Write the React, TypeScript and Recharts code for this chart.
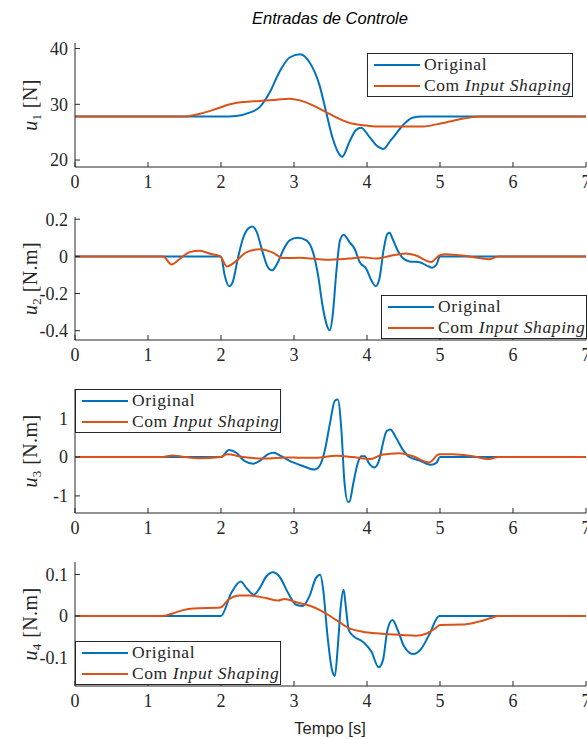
import React from "react";
import { Line, LineChart, XAxis, YAxis } from "recharts";

// tempo [s] e valores
const u1OrigT = [0, 2.0, 2.21, 2.39, 2.53, 2.67, 2.8, 2.94, 3.08, 3.21, 3.35, 3.44, 3.53, 3.6, 3.66, 3.76, 3.85, 3.92, 4.03, 4.15, 4.22, 4.33, 4.49, 4.62, 4.76, 7];
const u1OrigV = [27.8, 27.8, 27.9, 28.5, 29.5, 32.2, 35.8, 38.4, 39.0, 37.6, 33.4, 28.6, 23.9, 21.5, 20.6, 23.3, 25.4, 25.8, 24.2, 22.4, 22.0, 23.6, 26.2, 27.6, 27.8, 27.8];
const u1ShapT = [0, 1.48, 1.71, 1.94, 2.12, 2.3, 2.53, 2.76, 2.94, 3.08, 3.26, 3.44, 3.62, 3.81, 3.99, 4.2, 4.5, 4.76, 4.95, 5.13, 5.3, 5.45, 5.55, 7];
const u1ShapV = [27.8, 27.8, 28.3, 29.2, 30.0, 30.4, 30.6, 30.8, 31.0, 30.7, 29.8, 28.6, 27.4, 26.5, 26.2, 26.0, 26.0, 26.0, 26.4, 26.9, 27.4, 27.7, 27.8, 27.8];

const u2OrigT = [0, 2.0, 2.05, 2.11, 2.16, 2.23, 2.3, 2.37, 2.43, 2.49, 2.57, 2.64, 2.7, 2.78, 2.85, 2.94, 3.05, 3.17, 3.26, 3.33, 3.39, 3.45, 3.49, 3.53, 3.58, 3.63, 3.68, 3.76, 3.83, 3.9, 3.99, 4.06, 4.12, 4.17, 4.23, 4.28, 4.31, 4.35, 4.42, 4.49, 4.58, 4.72, 4.81, 4.89, 4.95, 5.0, 7];
const u2OrigV = [0, 0, -0.102, -0.161, -0.138, -0.012, 0.095, 0.149, 0.161, 0.131, 0.023, -0.057, -0.075, -0.031, 0.032, 0.086, 0.1, 0.086, 0.023, -0.102, -0.263, -0.371, -0.398, -0.317, -0.084, 0.086, 0.117, 0.077, 0.041, -0.031, -0.066, -0.129, -0.16, -0.12, 0.041, 0.122, 0.127, 0.095, 0.032, -0.009, -0.027, -0.031, -0.048, -0.061, -0.045, 0, 0];
const u2ShapT = [0, 1.21, 1.32, 1.44, 1.57, 1.71, 1.85, 1.99, 2.08, 2.19, 2.35, 2.53, 2.71, 2.85, 3.08, 3.3, 3.49, 3.76, 3.94, 4.12, 4.31, 4.53, 4.67, 4.88, 4.99, 5.08, 5.36, 5.54, 5.67, 5.8, 7];
const u2ShapV = [0, 0, -0.043, -0.012, 0.023, 0.03, 0.014, 0, -0.054, -0.031, 0.023, 0.038, 0.02, -0.009, -0.007, -0.014, -0.018, -0.012, -0.004, -0.012, 0.002, 0.016, 0.005, -0.03, 0.005, 0.012, 0.002, -0.009, -0.016, 0, 0];

const u3OrigT = [0, 2.0, 2.11, 2.21, 2.32, 2.44, 2.53, 2.64, 2.72, 2.82, 2.94, 3.12, 3.28, 3.35, 3.42, 3.49, 3.56, 3.6, 3.65, 3.69, 3.74, 3.76, 3.81, 3.87, 3.92, 3.97, 4.03, 4.1, 4.17, 4.22, 4.27, 4.32, 4.4, 4.49, 4.58, 4.72, 4.88, 4.95, 5.0, 7];
const u3OrigV = [0, 0, 0.18, 0.11, -0.1, -0.17, -0.1, 0.07, 0.11, 0.03, -0.1, -0.23, -0.32, -0.23, 0.15, 0.84, 1.45, 1.48, 0.67, -0.62, -1.15, -1.15, -0.7, -0.18, 0.02, 0.02, -0.17, -0.27, -0.06, 0.37, 0.67, 0.71, 0.49, 0.19, 0.0, -0.09, -0.2, -0.15, 0, 0];
const u3ShapT = [0, 1.2, 1.33, 1.5, 1.7, 2.0, 2.08, 2.3, 2.6, 2.9, 3.1, 3.3, 3.58, 3.8, 4.05, 4.2, 4.44, 4.63, 4.85, 4.99, 5.17, 5.45, 5.67, 5.8, 7];
const u3ShapV = [0, 0, 0.04, 0.0, -0.03, 0, 0.07, 0.0, -0.04, -0.01, -0.02, -0.02, 0.03, 0.0, -0.05, 0.06, 0.1, 0.02, -0.14, 0.07, 0.07, 0.02, -0.05, 0, 0];

const u4OrigT = [0, 2.0, 2.14, 2.27, 2.35, 2.45, 2.53, 2.62, 2.71, 2.8, 2.92, 3.03, 3.12, 3.21, 3.3, 3.36, 3.4, 3.46, 3.52, 3.56, 3.6, 3.64, 3.68, 3.71, 3.75, 3.81, 3.94, 4.06, 4.16, 4.22, 4.28, 4.35, 4.42, 4.51, 4.63, 4.74, 4.85, 4.99, 7];
const u4OrigV = [0, 0, 0.055, 0.083, 0.067, 0.051, 0.067, 0.095, 0.105, 0.095, 0.055, 0.027, 0.024, 0.047, 0.091, 0.099, 0.063, -0.05, -0.13, -0.145, -0.074, 0.022, 0.063, 0.022, -0.034, -0.048, -0.062, -0.086, -0.124, -0.106, -0.034, -0.01, -0.034, -0.074, -0.092, -0.08, -0.046, 0, 0];
const u4ShapT = [0, 1.2, 1.34, 1.48, 1.62, 1.99, 2.1, 2.26, 2.39, 2.62, 2.78, 2.87, 3.03, 3.21, 3.4, 3.58, 3.76, 3.94, 4.12, 4.31, 4.49, 4.67, 4.81, 4.92, 5.0, 5.3, 5.5, 5.7, 5.8, 7];
const u4ShapV = [0, 0, 0.006, 0.014, 0.018, 0.02, 0.039, 0.049, 0.049, 0.043, 0.037, 0.041, 0.033, 0.025, 0.01, -0.01, -0.03, -0.038, -0.042, -0.044, -0.046, -0.048, -0.043, -0.032, -0.022, -0.021, -0.015, -0.005, 0, 0];

const xTicks = [0, 1, 2, 3, 4, 5, 6, 7];
const u1Ticks = [20, 30, 40];
const u2Ticks = [-0.4, -0.2, 0, 0.2];
const u3Ticks = [-1, 0, 1];
const u4Ticks = [-0.1, 0, 0.1];

const BLUE = "#0072BD";
const ORANGE = "#D95319";
const INK = "#262626";
const SERIF = "'Liberation Serif', 'Times New Roman', serif";
const SANS = "'Liberation Sans', Arial, sans-serif";

const pts = (t: number[], v: number[]) => t.map((x, i) => ({ t: x, v: v[i] }));

const panels = [
  { sub: "1", unit: "N", top: 43, h: 124, domain: [18.75, 41], ticks: u1Ticks, orig: pts(u1OrigT, u1OrigV), shap: pts(u1ShapT, u1ShapV), legend: { left: 367, top: 53 } },
  { sub: "2", unit: "N.m", top: 217, h: 123, domain: [-0.45, 0.212], ticks: u2Ticks, orig: pts(u2OrigT, u2OrigV), shap: pts(u2ShapT, u2ShapV), legend: { left: 381, top: 295 } },
  { sub: "3", unit: "N.m", top: 389, h: 124, domain: [-1.44, 1.75], ticks: u3Ticks, orig: pts(u3OrigT, u3OrigV), shap: pts(u3ShapT, u3ShapV), legend: { left: 75, top: 389 } },
  { sub: "4", unit: "N.m", top: 562, h: 124, domain: [-0.169, 0.13], ticks: u4Ticks, orig: pts(u4OrigT, u4OrigV), shap: pts(u4ShapT, u4ShapV), legend: { left: 75, top: 641 } },
];

function YLabel({ viewBox, sub, unit }: any) {
  const cx = 37;
  const cy = viewBox.y + viewBox.height / 2;
  return (
    <text x={cx} y={cy} transform={`rotate(-90 ${cx} ${cy})`} textAnchor="middle" fontFamily={SERIF} fontSize={20} fill={INK} letterSpacing={0.4}>
      <tspan fontStyle="italic">u</tspan>
      <tspan fontSize={13} dy={4}>{sub}</tspan>
      <tspan dy={-4}>{"\u00a0[" + unit + "]"}</tspan>
    </text>
  );
}

function LegendBox({ left, top }: { left: number; top: number }) {
  const row = (color: string, label: React.ReactNode) => (
    <div style={{ display: "flex", alignItems: "center", height: 21, whiteSpace: "nowrap" }}>
      <div style={{ width: 46, height: 2, background: color, marginLeft: 6, marginRight: 4, flexShrink: 0 }} />
      <span>{label}</span>
    </div>
  );
  return (
    <div style={{ position: "absolute", left, top, width: 206, height: 44, background: "#fff", border: `1px solid ${INK}`, fontFamily: SERIF, fontSize: 17.5, letterSpacing: 0.6, color: INK, lineHeight: "21px", boxSizing: "border-box" }}>
      {row(BLUE, "Original")}
      {row(ORANGE, <>Com <i>Input Shaping</i></>)}
    </div>
  );
}

function Panel({ p }: { p: (typeof panels)[number] }) {
  const mt = 10;
  const xh = 35;
  const tickStyle = { fontFamily: SERIF, fontSize: 18, fill: INK };
  return (
    <div style={{ position: "absolute", left: 0, top: p.top - mt }}>
      <LineChart width={620} height={mt + p.h + xh} margin={{ top: mt, right: 34, bottom: 0, left: 0 }}>
        <XAxis dataKey="t" type="number" domain={[0, 7]} ticks={xTicks} allowDataOverflow height={xh} stroke={INK} tickSize={-5} tickMargin={13} tick={tickStyle} />
        <XAxis xAxisId="top" orientation="top" type="number" domain={[0, 7]} ticks={xTicks} height={0} stroke={INK} tickSize={-5} tick={false} />
        <YAxis type="number" domain={p.domain} ticks={p.ticks} allowDataOverflow width={75} stroke={INK} tickSize={-5} tickMargin={12} tick={tickStyle}
          label={{ content: (props: any) => <YLabel {...props} sub={p.sub} unit={p.unit} /> }} />
        <YAxis yAxisId="r" orientation="right" type="number" domain={p.domain} ticks={p.ticks} width={0} stroke={INK} tickSize={-5} tick={false} />
        <Line data={p.orig} dataKey="v" type="monotone" stroke={BLUE} strokeWidth={2} dot={false} isAnimationActive={false} />
        <Line data={p.shap} dataKey="v" type="monotone" stroke={ORANGE} strokeWidth={2} dot={false} isAnimationActive={false} />
      </LineChart>
      <div style={{ position: "absolute", left: 0, top: -(p.top - mt) }}>
        <LegendBox left={p.legend.left} top={p.legend.top} />
      </div>
    </div>
  );
}

export default function App() {
  return (
    <div style={{ position: "absolute", left: 0, top: 0, width: 587, height: 739, overflow: "hidden", background: "#fff" }}>
      <div style={{ position: "absolute", left: 0, width: 660, top: 9, textAlign: "center", fontFamily: SANS, fontStyle: "italic", fontSize: 16.5, color: "#000" }}>
        Entradas de Controle
      </div>
      {panels.map((p) => (
        <Panel key={p.sub} p={p} />
      ))}
      <div style={{ position: "absolute", left: 0, width: 660, top: 719, textAlign: "center", fontFamily: SANS, fontSize: 16.5, color: INK }}>
        Tempo [s]
      </div>
    </div>
  );
}
